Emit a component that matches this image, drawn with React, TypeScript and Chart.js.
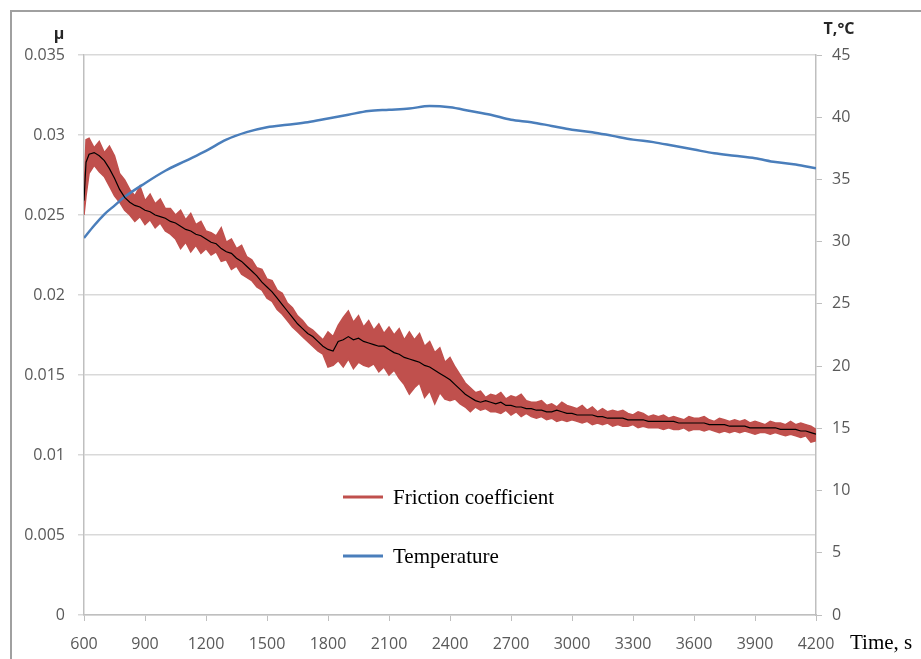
import React, { useEffect, useRef } from 'react';
import { Chart, registerables } from 'chart.js';

Chart.register(...registerables);

// Friction coefficient sampled every 25 s: running mean plus the upper and lower
// edges of the raw (noisy) signal
const muTime = [
  600, 610,
  625, 650, 675, 700, 725, 750, 775, 800,
  825, 850, 875, 900, 925, 950, 975, 1000,
  1025, 1050, 1075, 1100, 1125, 1150, 1175, 1200,
  1225, 1250, 1275, 1300, 1325, 1350, 1375, 1400,
  1425, 1450, 1475, 1500, 1525, 1550, 1575, 1600,
  1625, 1650, 1675, 1700, 1725, 1750, 1775, 1800,
  1825, 1850, 1875, 1900, 1925, 1950, 1975, 2000,
  2025, 2050, 2075, 2100, 2125, 2150, 2175, 2200,
  2225, 2250, 2275, 2300, 2325, 2350, 2375, 2400,
  2425, 2450, 2475, 2500, 2525, 2550, 2575, 2600,
  2625, 2650, 2675, 2700, 2725, 2750, 2775, 2800,
  2825, 2850, 2875, 2900, 2925, 2950, 2975, 3000,
  3025, 3050, 3075, 3100, 3125, 3150, 3175, 3200,
  3225, 3250, 3275, 3300, 3325, 3350, 3375, 3400,
  3425, 3450, 3475, 3500, 3525, 3550, 3575, 3600,
  3625, 3650, 3675, 3700, 3725, 3750, 3775, 3800,
  3825, 3850, 3875, 3900, 3925, 3950, 3975, 4000,
  4025, 4050, 4075, 4100, 4125, 4150, 4175, 4200,
];

const muMean = [
  0.0259, 0.0283,
  0.0288, 0.0289, 0.0287, 0.0284, 0.0279, 0.0273, 0.0266, 0.0261,
  0.0258, 0.0256, 0.0255, 0.0253, 0.0252, 0.025, 0.0249, 0.0248,
  0.0246, 0.0245, 0.0243, 0.0241, 0.024, 0.0238, 0.0237, 0.0235,
  0.0233, 0.0232, 0.0229, 0.0227, 0.0226, 0.0223, 0.0221, 0.0218,
  0.0215, 0.0212, 0.0208, 0.0205, 0.0202, 0.0198, 0.0194, 0.019,
  0.0186, 0.0182, 0.0179, 0.0176, 0.0174, 0.0171, 0.0168, 0.0166,
  0.0165, 0.0171, 0.0172, 0.0174, 0.0172, 0.0173, 0.0171, 0.017,
  0.0169, 0.0168, 0.0168, 0.0166, 0.0164, 0.0163, 0.0161, 0.016,
  0.0159, 0.0158, 0.0156, 0.0155, 0.0153, 0.0151, 0.0149, 0.0147,
  0.0144, 0.0141, 0.0138, 0.0136, 0.0134, 0.0133, 0.0134, 0.0133,
  0.0132, 0.0133, 0.0131, 0.0131, 0.013, 0.013, 0.0129, 0.0129,
  0.0128, 0.0128, 0.0127, 0.0127, 0.0128, 0.0127, 0.0126, 0.0126,
  0.0125, 0.0125, 0.0125, 0.0125, 0.0124, 0.0124, 0.0123, 0.0123,
  0.0123, 0.0123, 0.0122, 0.0122, 0.0122, 0.0122, 0.0121, 0.0121,
  0.0121, 0.0121, 0.0121, 0.0121, 0.012, 0.012, 0.012, 0.012,
  0.012, 0.012, 0.0119, 0.0119, 0.0119, 0.0119, 0.0118, 0.0118,
  0.0118, 0.0118, 0.0117, 0.0117, 0.0117, 0.0117, 0.0117, 0.0117,
  0.0116, 0.0116, 0.0116, 0.0116, 0.0115, 0.0115, 0.0114, 0.0113,
];

const muUpper = [
  0.0262, 0.0297,
  0.0298, 0.0292, 0.0296, 0.0289, 0.0293, 0.0287, 0.0276, 0.0272,
  0.0266, 0.0262, 0.0268, 0.0259, 0.0263, 0.0257, 0.026, 0.0254,
  0.0254, 0.025, 0.0253, 0.0247, 0.0251, 0.0244, 0.0246, 0.024,
  0.0239, 0.0237, 0.0242, 0.0233, 0.0235, 0.0229, 0.0231, 0.0224,
  0.0222, 0.0217, 0.0216, 0.021, 0.0209, 0.0203, 0.0201, 0.0195,
  0.0192, 0.0187, 0.0184, 0.018, 0.0178, 0.0175, 0.0172, 0.0177,
  0.0174, 0.0181, 0.0186, 0.019, 0.0183, 0.0187, 0.018, 0.0184,
  0.0178, 0.0182, 0.0176, 0.018, 0.0175, 0.0179, 0.0172, 0.0177,
  0.0172, 0.0176, 0.0168, 0.0171, 0.0164, 0.0167, 0.0158, 0.0161,
  0.0155, 0.015, 0.0145, 0.0142, 0.0139, 0.014, 0.0136, 0.0138,
  0.0137, 0.0139, 0.0135, 0.0137, 0.0136, 0.0138, 0.0134, 0.0133,
  0.0133, 0.0134, 0.0131, 0.0132, 0.013, 0.0133, 0.0131, 0.013,
  0.0129, 0.0131, 0.0128, 0.013, 0.0127, 0.0129, 0.0127, 0.0128,
  0.0127, 0.0128, 0.0126, 0.0125, 0.0127, 0.0126, 0.0124, 0.0125,
  0.0124, 0.0125, 0.0123, 0.0124, 0.0123, 0.0122, 0.0124, 0.0123,
  0.0123, 0.0124, 0.0122, 0.0121, 0.0123, 0.0122, 0.0121, 0.0122,
  0.0121, 0.0122, 0.012, 0.0121, 0.012, 0.0119, 0.0121, 0.012,
  0.012, 0.0119, 0.0121, 0.0119, 0.012, 0.0119, 0.0118, 0.0116,
];

const muLower = [
  0.025, 0.0262,
  0.0276, 0.0281, 0.0277, 0.0274, 0.0268, 0.0262, 0.0258, 0.0253,
  0.025, 0.0246, 0.0249, 0.0244, 0.0247, 0.0242, 0.0245, 0.024,
  0.0238, 0.0235, 0.0229, 0.0233, 0.0227, 0.0231, 0.0226, 0.0229,
  0.0225, 0.0227, 0.0221, 0.0222, 0.0216, 0.0218, 0.0213, 0.0211,
  0.0209, 0.0205, 0.0203, 0.0198, 0.0196, 0.0191, 0.0188, 0.0184,
  0.018, 0.0177, 0.0174, 0.0171, 0.0168, 0.0165, 0.0163, 0.0155,
  0.0156, 0.0159, 0.0155, 0.016, 0.0154, 0.0158, 0.0156, 0.0155,
  0.0157, 0.0152, 0.0155, 0.015, 0.0153, 0.0148, 0.0144, 0.0138,
  0.0142, 0.0145, 0.0136, 0.014, 0.0132, 0.0139, 0.0135, 0.0134,
  0.0135, 0.0132, 0.013, 0.0127, 0.013, 0.0128, 0.0129, 0.0127,
  0.0127, 0.0126, 0.0128, 0.0125, 0.0127, 0.0124, 0.0126, 0.0124,
  0.0123, 0.0124, 0.0122, 0.0123, 0.0121, 0.0122, 0.0121, 0.0122,
  0.0121, 0.012, 0.0121, 0.0119, 0.012, 0.0119, 0.012, 0.0118,
  0.0119, 0.0118, 0.0118, 0.0119, 0.0117, 0.0118, 0.0117, 0.0117,
  0.0117, 0.0116, 0.0117, 0.0116, 0.0116, 0.0117, 0.0115, 0.0116,
  0.0116, 0.0115, 0.0116, 0.0115, 0.0114, 0.0115, 0.0114, 0.0115,
  0.0114, 0.0115, 0.0114, 0.0113, 0.0114, 0.0114, 0.0113, 0.0114,
  0.0113, 0.0112, 0.0113, 0.0112, 0.0111, 0.0112, 0.0108, 0.0109,
];

// Temperature, °C
const tempTime = [
  600, 650, 700, 750, 800, 900, 1000, 1100, 1200, 1300,
  1400, 1500, 1600, 1700, 1800, 1900, 2000, 2100, 2200, 2300,
  2400, 2500, 2600, 2700, 2800, 2900, 3000, 3100, 3200, 3300,
  3400, 3500, 3600, 3700, 3800, 3900, 4000, 4100, 4200,
];

const tempValues = [
  30.3, 31.3, 32.2, 32.9, 33.6, 34.7, 35.7, 36.5, 37.3, 38.2,
  38.8, 39.2, 39.4, 39.6, 39.9, 40.2, 40.5, 40.6, 40.7, 40.9,
  40.8, 40.5, 40.2, 39.8, 39.6, 39.3, 39.0, 38.8, 38.5, 38.2,
  38.0, 37.7, 37.4, 37.1, 36.9, 36.7, 36.4, 36.2, 35.9,
];

const timeTicks = ['600', '900', '1200', '1500', '1800', '2100', '2400', '2700', '3000', '3300', '3600', '3900', '4200'];
const muTicks = ['0', '0.005', '0.01', '0.015', '0.02', '0.025', '0.03', '0.035'];
const tempTicks = ['0', '5', '10', '15', '20', '25', '30', '35', '40', '45'];

const RED = '#c0504d';
const BLUE = '#4a7ebb';
const TICK_COLOR = '#595959';
const TICK_FONT = { family: '"Open Sans", sans-serif', size: 16 };

const toPoints = (xs: number[], ys: number[]) => xs.map((x, i) => ({ x, y: ys[i] }));

// Axis titles and the in-plot legend
const overlayPlugin = {
  id: 'overlay',
  afterDraw(chart: any) {
    const { ctx, chartArea: a } = chart;
    ctx.save();
    ctx.fillStyle = '#262626';
    ctx.font = 'bold 16px "Open Sans", sans-serif';
    ctx.textAlign = 'center';
    ctx.textBaseline = 'middle';
    ctx.fillText('μ', a.left - 25, a.top - 21);
    ctx.fillText('T,°C', a.right + 23, a.top - 26);

    ctx.fillStyle = '#000';
    ctx.font = '21px "Liberation Serif", serif';
    ctx.textAlign = 'left';
    ctx.fillText('Time, s', a.right + 34, a.bottom + 28);

    const entries = [
      { label: 'Friction coefficient', color: RED, y: a.bottom - 118 },
      { label: 'Temperature', color: BLUE, y: a.bottom - 59 },
    ];
    entries.forEach((e) => {
      ctx.strokeStyle = e.color;
      ctx.lineWidth = 3;
      ctx.beginPath();
      ctx.moveTo(a.left + 259, e.y);
      ctx.lineTo(a.left + 299, e.y);
      ctx.stroke();
      ctx.fillStyle = '#000';
      ctx.fillText(e.label, a.left + 309, e.y + 1);
    });
    ctx.restore();
  },
};

export default function App() {
  const canvasRef = useRef<HTMLCanvasElement | null>(null);

  useEffect(() => {
    const canvas = canvasRef.current;
    if (!canvas) return;
    const chart = new Chart(canvas, {
      type: 'line',
      data: {
        datasets: [
          {
            label: 'Friction coefficient (max)',
            data: toPoints(muTime, muUpper),
            yAxisID: 'yMu',
            borderColor: RED,
            borderWidth: 1.5,
            backgroundColor: RED,
            pointRadius: 0,
            fill: false,
            order: 4,
          },
          {
            label: 'Friction coefficient',
            data: toPoints(muTime, muLower),
            yAxisID: 'yMu',
            borderColor: RED,
            borderWidth: 1.5,
            backgroundColor: RED,
            pointRadius: 0,
            fill: '-1',
            order: 3,
          },
          {
            label: 'Temperature',
            data: toPoints(tempTime, tempValues),
            yAxisID: 'yT',
            borderColor: BLUE,
            borderWidth: 2.5,
            pointRadius: 0,
            cubicInterpolationMode: 'monotone',
            fill: false,
            order: 1,
          },
          {
            label: 'Friction coefficient (mean)',
            data: toPoints(muTime, muMean),
            yAxisID: 'yMu',
            borderColor: '#000000',
            borderWidth: 1.2,
            pointRadius: 0,
            fill: false,
            order: 0,
          },
        ],
      },
      options: {
        animation: false,
        responsive: false,
        layout: { padding: { top: 55, left: 0, right: 0, bottom: 0 } },
        plugins: {
          legend: { display: false },
          tooltip: { enabled: false },
        },
        scales: {
          x: {
            type: 'linear',
            min: 600,
            max: 4200,
            afterFit: (s: any) => { s.height = 44; },
            ticks: {
              stepSize: 300,
              autoSkip: false,
              maxRotation: 0,
              padding: 14,
              color: TICK_COLOR,
              font: TICK_FONT,
              callback: (_v: any, i: number) => timeTicks[i],
            },
            grid: { drawOnChartArea: false, drawTicks: true, tickLength: 6, color: '#bfbfbf', lineWidth: 1 },
            border: { color: '#bfbfbf', width: 1.5 },
          },
          yMu: {
            type: 'linear',
            position: 'left',
            min: 0,
            max: 0.035,
            afterFit: (s: any) => { s.width = 84; },
            ticks: {
              stepSize: 0.005,
              padding: 13,
              color: TICK_COLOR,
              font: TICK_FONT,
              callback: (_v: any, i: number) => muTicks[i],
            },
            grid: { color: '#d9d9d9', lineWidth: 1.5, tickLength: 6 },
            border: { color: '#bfbfbf', width: 1.5 },
          },
          yT: {
            type: 'linear',
            position: 'right',
            min: 0,
            max: 45,
            afterFit: (s: any) => { s.width = 105; },
            ticks: {
              stepSize: 5,
              padding: 10,
              color: TICK_COLOR,
              font: TICK_FONT,
              callback: (_v: any, i: number) => tempTicks[i],
            },
            grid: { drawOnChartArea: false, tickLength: 6, color: '#bfbfbf', lineWidth: 1 },
            border: { color: '#bfbfbf', width: 1.5 },
          },
        },
      },
      plugins: [overlayPlugin],
    });
    return () => chart.destroy();
  }, []);

  return (
    <div style={{ position: 'fixed', left: 0, top: 0, width: 921, height: 659, background: '#fff', overflow: 'hidden' }}>
      <canvas ref={canvasRef} width={921} height={659} style={{ display: 'block', position: 'absolute', left: 0, top: 0 }} />
      <div
        style={{
          position: 'absolute',
          left: 10,
          top: 10,
          width: 1000,
          height: 1000,
          borderLeft: '2px solid #a0a0a0',
          borderTop: '2px solid #a0a0a0',
          pointerEvents: 'none',
        }}
      />
    </div>
  );
}
